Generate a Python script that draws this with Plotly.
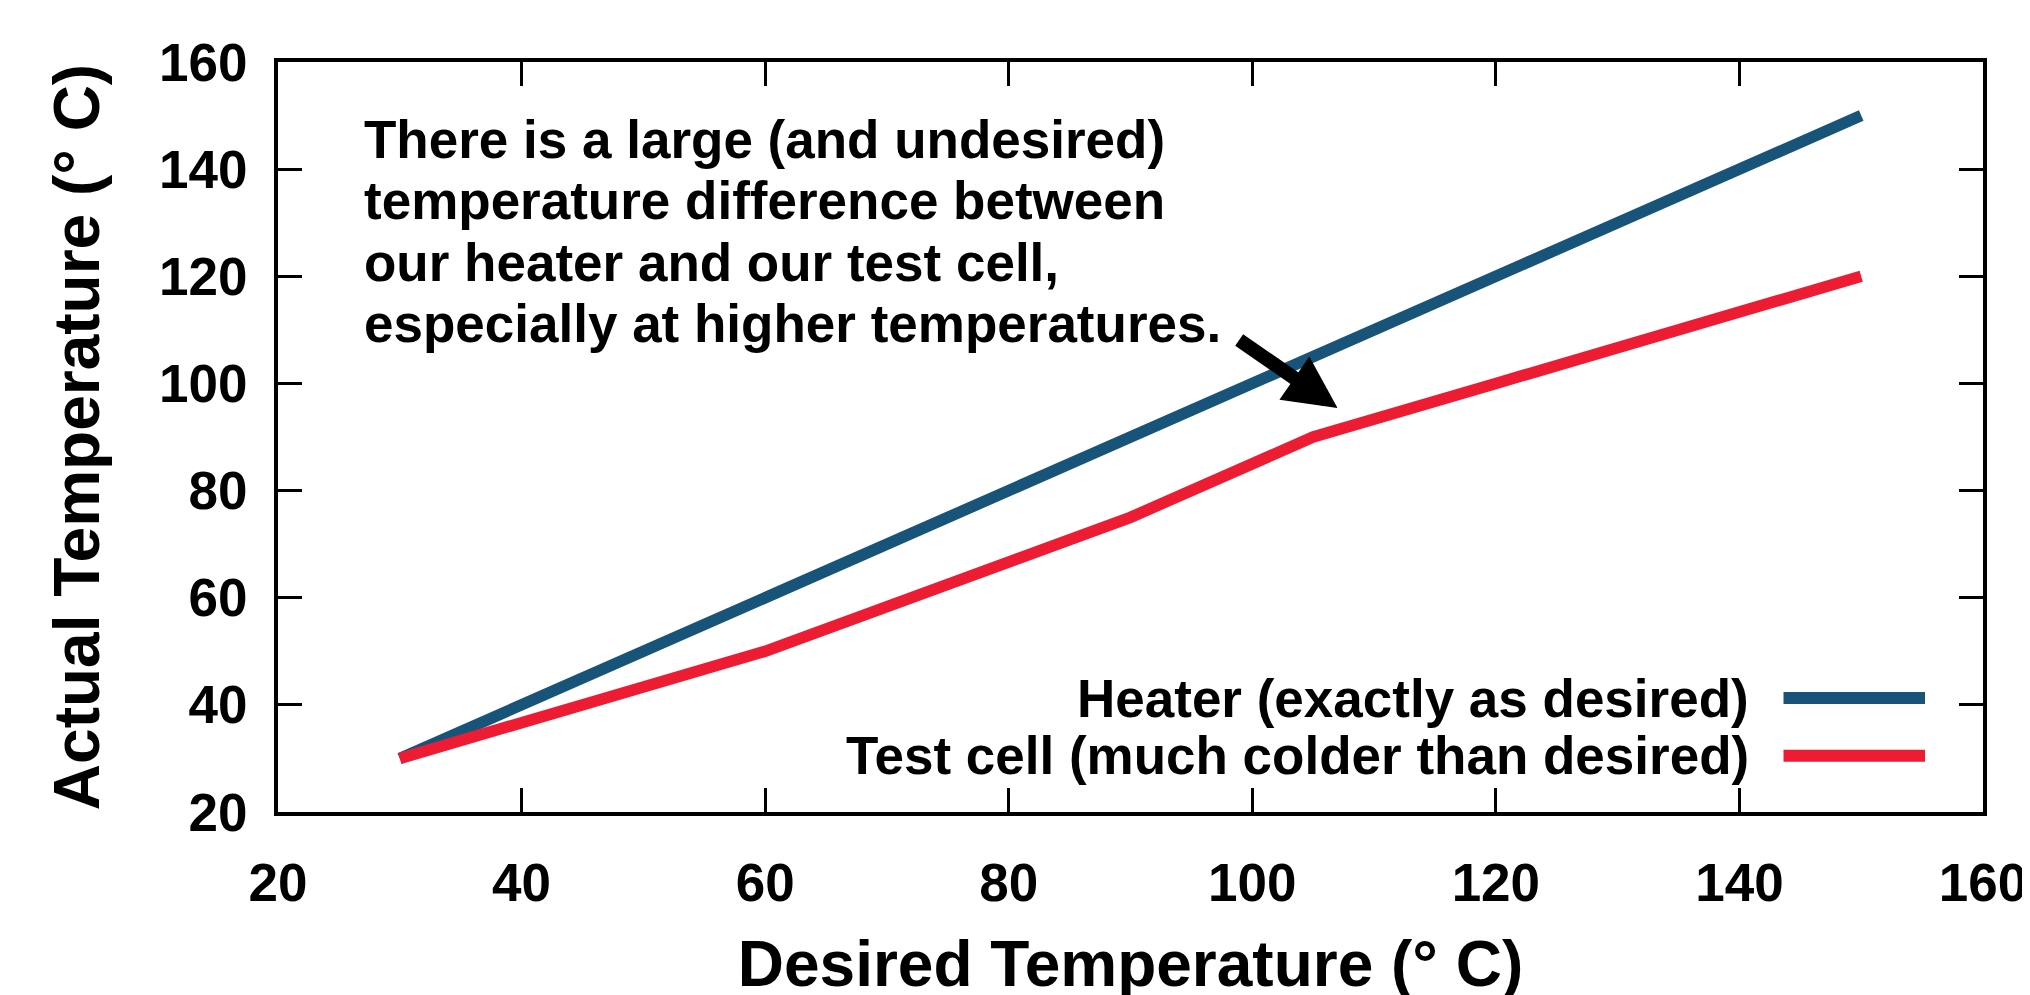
import plotly.graph_objects as go

# datos
desired = [30, 60, 90, 105, 120, 150]
heater = [30, 60, 90, 105, 120, 150]
test_cell = [30, 50, 75, 90, 100, 120]

x_ticks = [20, 40, 60, 80, 100, 120, 140, 160]
y_ticks = [20, 40, 60, 80, 100, 120, 140, 160]

note_lines = [
    'There is a large (and undesired)',
    'temperature difference between',
    'our heater and our test cell,',
    'especially at higher temperatures.',
]
series_names = ['Heater (exactly as desired)', 'Test cell (much colder than desired)']

BLUE = '#185479'
RED = '#EE1C33'
FONT = 'Liberation Sans, Arial, sans-serif'

fig = go.Figure()
fig.add_trace(go.Scatter(x=desired, y=heater, mode='lines', name=series_names[0],
                         line=dict(color=BLUE, width=11.5)))
fig.add_trace(go.Scatter(x=desired, y=test_cell, mode='lines', name=series_names[1],
                         line=dict(color=RED, width=11.5)))

annotations = []
# texto explicativo, una linea por anotacion
for line, yp in zip(note_lines, [0.897, 0.815, 0.733, 0.651]):
    annotations.append(dict(text=f'<b>{line}</b>', x=0.049, y=yp, xref='paper', yref='paper',
                            xanchor='left', yanchor='middle', showarrow=False,
                            font=dict(size=53, color='black', family=FONT)))

# flecha
annotations.append(dict(text='', x=107, y=95.4, ax=98.8, ay=108.3, xref='x', yref='y',
                        axref='x', ayref='y', showarrow=True, arrowhead=2,
                        arrowsize=0.75, arrowwidth=14, arrowcolor='black', standoff=0))

# leyenda manual (texto a la izquierda de la muestra)
shapes = []
for name, color, yp in zip(series_names, [BLUE, RED], [0.152, 0.075]):
    annotations.append(dict(text=f'<b>{name}</b>', x=0.864, y=yp, xref='paper', yref='paper',
                            xanchor='right', yanchor='middle', showarrow=False,
                            font=dict(size=53, color='black', family=FONT)))
    shapes.append(dict(type='line', xref='paper', yref='paper', x0=0.883, x1=0.966,
                       y0=yp, y1=yp, line=dict(color=color, width=12)))

# la pagina tiene 8px de margen en body, se compensa aqui
fig.update_layout(
    width=2030, height=995,
    margin=dict(l=270, r=55, t=54, b=191),
    plot_bgcolor='white', paper_bgcolor='white',
    showlegend=False,
    font=dict(family=FONT, color='black', size=53),
    annotations=annotations, shapes=shapes,
)
fig.update_xaxes(
    range=[20, 160], tickvals=x_ticks, ticktext=[f'<b>{v}</b>' for v in x_ticks],
    ticks='inside', ticklen=24, tickwidth=3, tickcolor='black',
    showline=True, linewidth=4, linecolor='black', mirror='ticks',
    showgrid=False, zeroline=False, ticklabelstandoff=21, automargin=False,
    title=dict(text='<b>Desired Temperature (° C)</b>', font=dict(size=64), standoff=32),
)
fig.update_yaxes(
    range=[20, 160], tickvals=y_ticks, ticktext=[f'<b>{v}</b>' for v in y_ticks],
    ticks='inside', ticklen=24, tickwidth=3, tickcolor='black',
    showline=True, linewidth=4, linecolor='black', mirror='ticks',
    showgrid=False, zeroline=False, ticklabelstandoff=16, automargin=False,
    title=dict(text='<b>Actual Temperature (° C)</b>', font=dict(size=64), standoff=40),
)

fig.write_html('out.html')
